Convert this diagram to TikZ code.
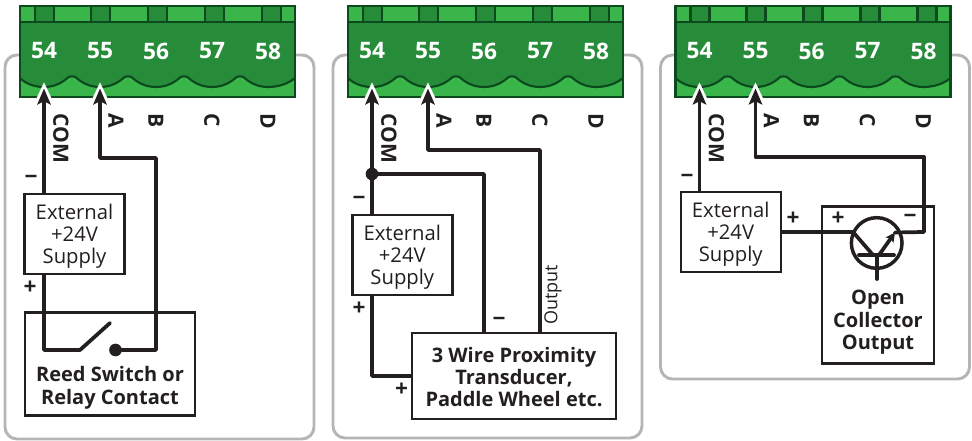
\documentclass[tikz,border=0pt]{standalone}
\usepackage{fontspec}
\setmainfont{Open Sans}
\usetikzlibrary{arrows.meta}

\definecolor{blockdark}{HTML}{278C3A}
\definecolor{blocklight}{HTML}{3AB54A}
\definecolor{blockline}{HTML}{0C4A1E}
\definecolor{framegray}{HTML}{B5B5B5}
\definecolor{inkblack}{HTML}{231F20}

\tikzset{
    wire/.style={draw=inkblack, line width=2.8pt, line cap=round, line join=round},
    pinwire/.style={wire, -{Stealth[length=12pt,width=10pt,inset=2.5pt]}},
    halo/.style={draw=white, line width=0.2pt, -{Stealth[length=18pt,width=17pt,inset=4pt]}},
    framebox/.style={draw=framegray, line width=2.2pt, rounded corners=9pt},
    partbox/.style={draw=inkblack, line width=1.8pt, inner sep=0pt, align=center, text=inkblack,
        font=\fontsize{15.2}{16.5}\selectfont},
    boldtext/.style={inner sep=0pt, align=center, text=inkblack,
        font=\fontsize{15}{16.8}\selectfont\bfseries},
    polarity/.style={inner sep=0pt, text=inkblack, font=\fontsize{17}{17}\selectfont\bfseries},
    termnum/.style={inner sep=0pt, text=white, font=\fontsize{17}{17}\selectfont\bfseries},
    termlabel/.style={inner sep=0pt, anchor=west, rotate=-90, text=inkblack,
        font=\fontsize{15.8}{15.8}\selectfont\bfseries},
    supply/.style={partbox, minimum width=75pt, minimum height=60pt},
}

% same text in all three supplies, the rule pushes it down a little
\newcommand{\supplytext}{\rule{0pt}{14.6pt}External\\+24V\\Supply}

% bottom edge of the terminal block
\newcommand{\scallops}{
    .. controls (26,84) and (35,87) .. (44,87)
    .. controls (54,87) and (62,83) .. (68,77.5)
    .. controls (70,76) and (74,76) .. (76,77.5)
    .. controls (82,83) and (90,87) .. (100,87)
    .. controls (110,87) and (118,83) .. (124,77.5)
    .. controls (126,76) and (130,76) .. (132,77.5)
    .. controls (138,83) and (146,87) .. (156,87)
    .. controls (166,87) and (174,83) .. (180,77.5)
    .. controls (182,76) and (186,76) .. (188,77.5)
    .. controls (194,83) and (202,87) .. (212,87)
    .. controls (222,87) and (230,83) .. (236,77.5)
    .. controls (238,76) and (242,76) .. (244,77.5)
    .. controls (250,83) and (258,87) .. (268,87)
    .. controls (278,87) and (288,84) .. (295,78)
}

\begin{document}
\begin{tikzpicture}[x=0.75pt,y=-0.75pt]
    \useasboundingbox (0,0) rectangle (972,441);

    % frames and terminal blocks
    \foreach \pn/\sh/\bot in {a/0/439,b/328/438,c/655.5/379} {
        \begin{scope}[shift={(\sh,0)}]
            \draw[framebox] (5,55) rectangle (314,\bot);

            \fill[blocklight] (20,6) rectangle (295,97);
            \foreach \xa/\xb in {35/54,91/110,148/167,205/224,262/281} {
                \fill[blockdark] (\xa,6) rectangle (\xb,22);
            }
            \fill[blockdark] (20,22) -- (20,78) \scallops -- (295,22) -- cycle;
            \draw[blockline, line width=1.6pt] (20,78) \scallops;
            \foreach \xa in {35,54,91,110,148,167,205,224,262,281} {
                \draw[blockline, line width=1.6pt] (\xa,6) -- (\xa,22);
            }
            \draw[blockline, line width=1.6pt] (20,22) -- (295,22);
            \draw[blockline, line width=1.8pt] (20,6) rectangle (295,97);

            % terminal numbers
            \foreach \n/\x in {54/44,55/100,56/156,57/212,58/268} {
                \node[termnum] (\pn-num\n) at (\x,51) {\n};
            }
            \foreach \l/\x in {COM/61,A/116,B/156,C/212,D/268} {
                \node[termlabel] (\pn-lab\l) at (\x,113) {\l};
            }

            % pins, the white edge goes under the wire
            \coordinate (\pn-pin54) at (44,88.5);
            \coordinate (\pn-pin55) at (100,88.5);
            \draw[halo] (44,108) -- (44,82.5);
            \draw[halo] (100,108) -- (100,82.5);
        \end{scope}
    }

    % first panel, switch contact
    \node[supply] (asupply) at (74.5,234) {\supplytext};
    \node[draw=inkblack, line width=1.8pt, minimum width=127.5pt, minimum height=77pt, inner sep=0pt] (acontact) at (109.7,364) {};
    \node[boldtext] (acontacttext) at (110,388) {Reed Switch or\\Relay Contact};
    \node[polarity] (aminus) at (31,180) {−};
    \node[polarity] (aplus) at (30,288) {+};
    \node[circle, fill=inkblack, inner sep=0pt, minimum size=9.5pt] (adot) at (115.5,350) {};
    \coordinate (ablade) at (80,350);
    \coordinate (abladetip) at (110,323);
    \coordinate (abend) at (156,158);

    \draw[pinwire] (asupply.north -| a-pin54) -- (a-pin54);
    \draw[wire] (asupply.south -| a-pin54) |- (ablade) -- (abladetip);
    \draw[pinwire] (adot) -| (abend) -- (abend -| a-pin55) -- (a-pin55);

    % second panel, proximity transducer
    \node[supply] (bsupply) at (402.3,255.3) {\supplytext};
    \node[partbox, font=\fontsize{15}{16.5}\selectfont\bfseries, minimum width=153pt, minimum height=64.5pt] (bsensor) at (514,376) {\rule{0pt}{13pt}3 Wire Proximity\\Transducer,\\Paddle Wheel etc.};
    \node[polarity] (bminus) at (359,201) {−};
    \node[polarity] (bplus) at (359,309) {+};
    \node[polarity] (bplustwo) at (401.5,390) {+};
    \node[polarity] (bminustwo) at (499,322) {−};
    \node[inner sep=0pt, rotate=90, text=inkblack, font=\fontsize{13.5}{13.5}\selectfont] (boutput) at (553,295) {Output};
    \node[circle, fill=inkblack, inner sep=0pt, minimum size=9.5pt] (bdot) at (372,174) {};
    \coordinate (bbendone) at (484,174);
    \coordinate (bbendtwo) at (540,150);

    \draw[pinwire] (bsupply.north -| b-pin54) -- (b-pin54);
    \draw[wire] (bsupply.south -| b-pin54) |- (bsensor.west);
    \draw[wire] (bdot) -- (bbendone) -- (bbendone |- bsensor.north);
    \draw[pinwire] (bbendtwo |- bsensor.north) -- (bbendtwo) -- (bbendtwo -| b-pin55) -- (b-pin55);

    % third panel, open collector
    \node[supply] (csupply) at (730.7,232) {\supplytext};
    \node[draw=inkblack, line width=1.8pt, minimum width=84pt, minimum height=117.5pt, inner sep=0pt] (coutbox) at (878,285) {};
    \node[boldtext] (couttext) at (878,322.5) {Open\\Collector\\Output};
    \node[polarity] (cminus) at (687,179) {−};
    \node[polarity] (cplus) at (793,219) {+};
    \node[polarity] (cplustwo) at (838,219) {+};
    \node[polarity] (cminustwo) at (910,219) {−};
    \node[circle, draw=inkblack, line width=2.6pt, inner sep=0pt, minimum size=38pt] (ctrans) at (876.7,243) {};
    \coordinate (ccoll) at (853,232);
    \coordinate (cbaseleft) at (859,255);
    \coordinate (cbaseright) at (894,255);
    \coordinate (cstem) at (877,255);
    \coordinate (cstemend) at (877,279);
    \coordinate (cemit) at (895,232.5);
    \coordinate (cbendone) at (924,232);
    \coordinate (cbendtwo) at (924,157);

    \draw[pinwire] (csupply.north -| c-pin54) -- (c-pin54);
    \draw[wire] (csupply.east) -- (ccoll) -- (873,255);
    \draw[wire] (cbaseleft) -- (cbaseright);
    \draw[wire] (cstem) -- (cstemend);
    \draw[wire, -{Stealth[length=7pt,width=7pt,inset=1.5pt]}] (879,255) -- (cemit);
    \draw[wire] (cemit) -- (cbendone) -- (cbendtwo);
    \draw[pinwire] (cbendtwo) -- (cbendtwo -| c-pin55) -- (c-pin55);
\end{tikzpicture}
\end{document}
